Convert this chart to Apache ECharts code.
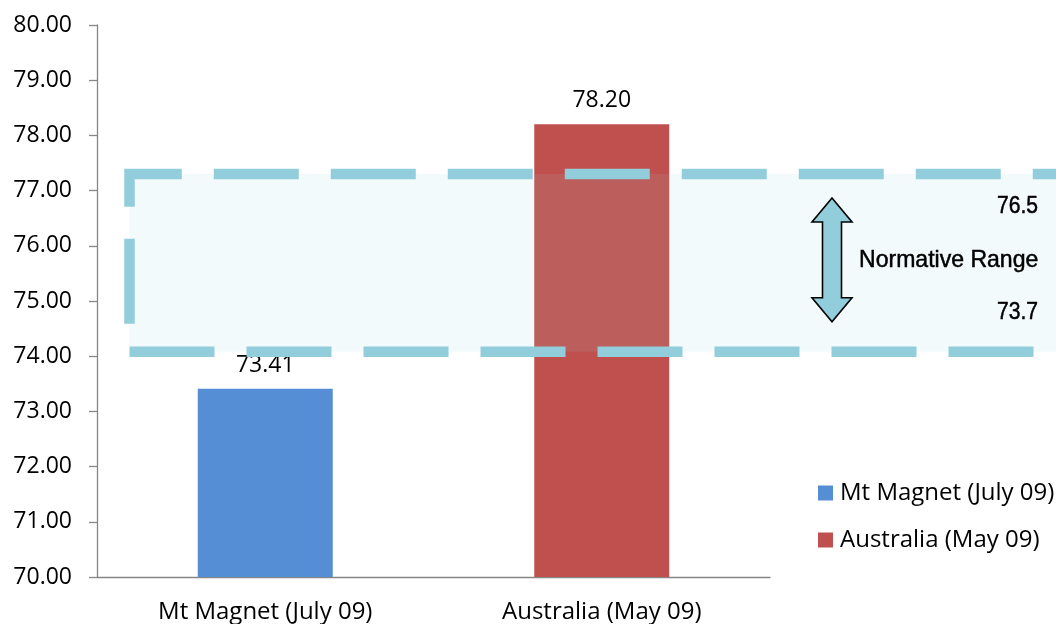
<!DOCTYPE html>
<html><head><meta charset="utf-8">
<script src="https://cdn.jsdelivr.net/npm/echarts@6/dist/echarts.min.js"></script>
<style>html,body{margin:0;padding:0;background:#fff}#c{width:1056px;height:624px}</style>
</head><body><div id="c"></div>
<script>
// ---- data ----
const categories = ['Mt Magnet (July 09)', 'Australia (May 09)'];
const seriesNames = ['Mt Magnet (July 09)', 'Australia (May 09)'];
const mtMagnetValues = [73.41, '-'];
const australiaValues = ['-', 78.20];
const yMin = 70, yMax = 80, yInterval = 1;
const normHigh = '76.5', normLow = '73.7', normTitle = 'Normative Range';
const bandTop = 77.30, bandBottom = 74.08; // extent of drawn band (value units)

const FONT = '"Open Sans", "Liberation Sans", sans-serif';
const NFONT = '"Liberation Sans", Arial, sans-serif';
const AXIS = '#868686';
const chart = echarts.init(document.getElementById('c'), null, {renderer: 'canvas'});
chart.setOption({
  animation: false,
  grid: {left: 97, right: 286, top: 25, bottom: 47, containLabel: false},
  legend: {
    orient: 'vertical', left: 818, top: 481, padding: 0,
    itemWidth: 15, itemHeight: 15, itemGap: 23, icon: 'rect',
    textStyle: {fontFamily: FONT, fontSize: 24, color: '#000', padding: [0, 0, 0, 2]},
    data: seriesNames
  },
  xAxis: {
    type: 'category', data: categories,
    axisLine: {lineStyle: {color: AXIS, width: 1.3}},
    axisTick: {length: 8, lineStyle: {color: AXIS, width: 1.3}},
    axisLabel: {fontFamily: FONT, fontSize: 24, color: '#000', margin: 23}
  },
  yAxis: {
    type: 'value', min: yMin, max: yMax, interval: yInterval,
    splitLine: {show: false},
    axisLine: {show: true, lineStyle: {color: AXIS, width: 1.3}},
    axisTick: {show: true, length: 8, lineStyle: {color: AXIS, width: 1.3}},
    axisLabel: {fontFamily: FONT, fontSize: 23, color: '#000', margin: 25,
      formatter: v => v.toFixed(2)}
  },
  series: [
    {name: seriesNames[0], type: 'bar', data: mtMagnetValues, barWidth: 135, barGap: '-100%',
     itemStyle: {color: '#558ed5'},
     label: {show: true, position: 'top', distance: 12, fontFamily: FONT, fontSize: 23, color: '#000',
       formatter: p => Number(p.value).toFixed(2)}},
    {name: seriesNames[1], type: 'bar', data: australiaValues, barWidth: 135, barGap: '-100%',
     itemStyle: {color: '#c0504d'},
     label: {show: true, position: 'top', distance: 12, fontFamily: FONT, fontSize: 23, color: '#000',
       formatter: p => Number(p.value).toFixed(2)}}
  ]
});

// ---- normative range annotation ----
const yT = chart.convertToPixel({yAxisIndex: 0}, bandTop);
const yB = chart.convertToPixel({yAxisIndex: 0}, bandBottom);
const xL = 129.5, xR = 1080;
const BLUE = '#92cddc';
const dash = [85, 32];
const cx = 832, aTop = yT + 24, aBot = yB - 30, hh = 24, hw = 20, sw = 9.5;
const txt = (text, x, y, align, sx) => ({
  type: 'text', z: 103, x: x, y: y, scaleX: sx, scaleY: 1,
  style: {text: text, x: 0, y: 0, align: align, verticalAlign: 'middle',
    font: '24px ' + NFONT, fill: '#000', stroke: '#000', lineWidth: 0.5}
});
chart.setOption({
  graphic: [
    {type: 'rect', z: 100, shape: {x: xL, y: yT, width: xR - xL, height: yB - yT},
     style: {fill: 'rgba(146,205,220,0.11)', stroke: null}},
    {type: 'polyline', z: 101, shape: {points: [[xL, yB], [xL, yT], [xR, yT]]},
     style: {stroke: BLUE, lineWidth: 10.5, fill: null, lineDash: dash, lineDashOffset: 89, lineJoin: 'miter', lineCap: 'butt'}},
    {type: 'polyline', z: 101, shape: {points: [[xL, yB], [xR, yB]]},
     style: {stroke: BLUE, lineWidth: 10.5, fill: null, lineDash: dash, lineDashOffset: 0, lineCap: 'butt'}},
    {type: 'polygon', z: 102, shape: {points: [
      [cx, aTop], [cx + hw, aTop + hh], [cx + sw, aTop + hh], [cx + sw, aBot - hh], [cx + hw, aBot - hh],
      [cx, aBot], [cx - hw, aBot - hh], [cx - sw, aBot - hh], [cx - sw, aTop + hh], [cx - hw, aTop + hh]]},
     style: {fill: BLUE, stroke: '#000', lineWidth: 1.6}},
    txt(normHigh, 1038, yT + 32, 'right', 0.88),
    txt(normTitle, 859, (yT + yB) / 2 - 3, 'left', 0.96),
    txt(normLow, 1038, yB - 39, 'right', 0.88)
  ]
});
</script></body></html>
